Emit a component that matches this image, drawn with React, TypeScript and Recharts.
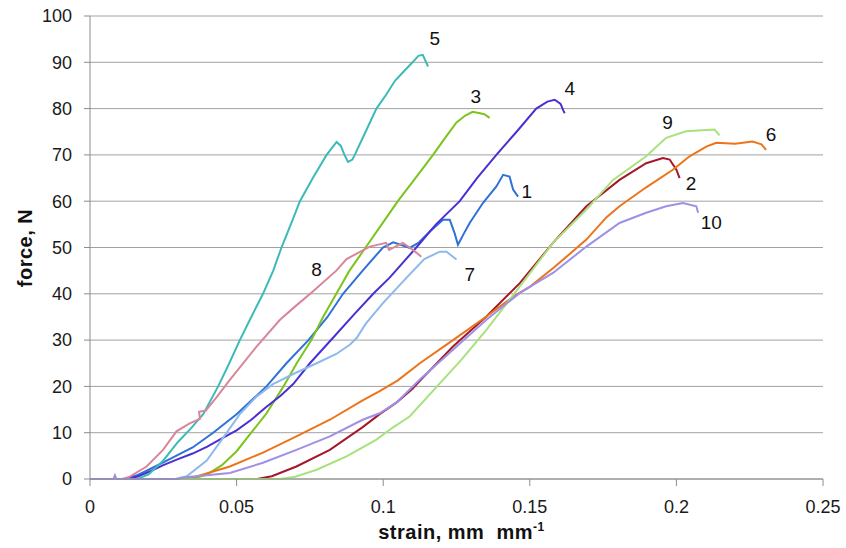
import React from 'react';
import { LineChart, Line, XAxis, YAxis, CartesianGrid, ReferenceDot, Label } from 'recharts';

const FONT = '"Liberation Sans", Arial, Helvetica, sans-serif';

// strain (x) and force (y) for each specimen
const s1x = [0, 0.012, 0.016, 0.02, 0.025, 0.03, 0.035, 0.042, 0.05, 0.0602, 0.067, 0.0745, 0.081, 0.0863, 0.093, 0.0999, 0.1034, 0.106, 0.109, 0.112, 0.116, 0.1204, 0.1227, 0.1244, 0.1255, 0.1275, 0.1295, 0.134, 0.1386, 0.1409, 0.1431, 0.1443, 0.146];
const s1y = [0, 0, 0.8, 2, 3.6, 5.2, 6.8, 10, 14, 20, 25, 30, 35, 40, 45, 50, 51.1, 50.6, 49.9, 51, 53.5, 56, 56, 53, 50.6, 53, 55.3, 59.6, 63.2, 65.7, 65.3, 62.5, 61];

const s2x = [0, 0.057, 0.062, 0.0704, 0.0818, 0.093, 0.0988, 0.1045, 0.11, 0.1125, 0.1238, 0.1352, 0.1466, 0.1579, 0.1693, 0.1806, 0.1897, 0.1954, 0.1977, 0.2, 0.2011];
const s2y = [0, 0, 0.6, 2.7, 6.3, 11.2, 14, 16.5, 19.5, 21.2, 28.6, 35.1, 42.3, 51, 58.9, 64.6, 68.2, 69.3, 69, 66.8, 65];

const s3x = [0, 0.035, 0.04, 0.045, 0.05, 0.055, 0.06, 0.066, 0.0705, 0.0755, 0.0795, 0.084, 0.0885, 0.094, 0.0995, 0.105, 0.111, 0.117, 0.1215, 0.125, 0.128, 0.1305, 0.133, 0.1345, 0.1363];
const s3y = [0, 0, 1, 3, 6, 10, 14, 20, 25, 30, 35, 40, 45, 50, 55, 60, 65, 70, 74, 77, 78.5, 79.3, 79, 78.8, 78];

const s4x = [0, 0.012, 0.016, 0.02, 0.025, 0.03, 0.035, 0.04, 0.045, 0.05, 0.055, 0.06, 0.065, 0.0693, 0.075, 0.0829, 0.09, 0.0966, 0.1022, 0.1113, 0.118, 0.1261, 0.132, 0.1386, 0.1455, 0.1522, 0.156, 0.1585, 0.1605, 0.1615, 0.1619];
const s4y = [0, 0, 0.5, 1.5, 3, 4.3, 5.5, 7, 8.8, 10.5, 12.8, 15.5, 18, 20.5, 25, 30.5, 35.5, 40, 43.5, 50, 55, 60, 65, 70, 75, 80, 81.5, 81.9, 81, 79.5, 79];

const s5x = [0, 0.016, 0.02, 0.025, 0.03, 0.0345, 0.0386, 0.0437, 0.0475, 0.0511, 0.055, 0.059, 0.0625, 0.0653, 0.0685, 0.0716, 0.076, 0.0807, 0.0841, 0.0855, 0.0868, 0.088, 0.0895, 0.0903, 0.094, 0.0977, 0.101, 0.104, 0.107, 0.11, 0.112, 0.1135, 0.1153];
const s5y = [0, 0, 1, 4, 8, 11, 14, 20, 25, 30, 35, 40, 45, 50, 55, 60, 65, 70, 72.8, 72, 70, 68.5, 69, 70, 75, 80, 83, 86, 88, 90, 91.4, 91.6, 89.1];

const s6x = [0, 0.03, 0.036, 0.0477, 0.059, 0.0704, 0.0818, 0.093, 0.0988, 0.105, 0.1125, 0.1238, 0.1352, 0.1443, 0.15, 0.1579, 0.1693, 0.1761, 0.1806, 0.1897, 0.1988, 0.2045, 0.2102, 0.2136, 0.22, 0.226, 0.229, 0.2306];
const s6y = [0, 0, 0.5, 2.7, 5.7, 9.2, 12.8, 17, 19, 21.3, 25, 30, 35.1, 39.4, 41.5, 45.5, 51.7, 56.5, 58.9, 63, 66.8, 69.7, 71.8, 72.6, 72.4, 72.9, 72.3, 71.1];

const s7x = [0, 0.029, 0.033, 0.0398, 0.0455, 0.0511, 0.0568, 0.0624, 0.0704, 0.0773, 0.084, 0.0886, 0.091, 0.094, 0.0999, 0.108, 0.114, 0.1193, 0.1216, 0.125];
const s7y = [0, 0, 0.6, 4, 9, 14, 17.8, 20.5, 23, 25, 27, 29, 30.5, 33.5, 38, 43.5, 47.5, 49.1, 49.1, 47.4];

const s8x = [0, 0.011, 0.0136, 0.0193, 0.0249, 0.0295, 0.034, 0.0375, 0.0372, 0.0395, 0.043, 0.0477, 0.0568, 0.0648, 0.0704, 0.076, 0.084, 0.0875, 0.0954, 0.101, 0.102, 0.1067, 0.109, 0.1113, 0.113];
const s8y = [0, 0, 0.5, 2.7, 6.3, 10.3, 12, 13, 14.5, 14.8, 17.5, 21.4, 28.6, 34.4, 37.5, 40.5, 45, 47.5, 50.2, 51, 49.5, 51, 50, 48.9, 48];

const s9x = [0, 0.065, 0.07, 0.0773, 0.0875, 0.0977, 0.103, 0.109, 0.1204, 0.127, 0.1352, 0.1466, 0.1579, 0.1693, 0.1784, 0.1897, 0.1965, 0.2033, 0.2102, 0.213, 0.2147];
const s9y = [0, 0, 0.5, 2, 4.9, 8.5, 11, 13.5, 21.4, 26, 32.2, 41.6, 51, 58.2, 64.6, 69.7, 73.7, 75.1, 75.4, 75.5, 74.2];

const s10x = [0, 0.008, 0.0085, 0.009, 0.03, 0.0318, 0.0477, 0.059, 0.0704, 0.0818, 0.093, 0.0988, 0.1045, 0.1125, 0.1238, 0.1352, 0.1466, 0.1579, 0.1693, 0.1806, 0.1897, 0.1965, 0.2022, 0.2068, 0.2074];
const s10y = [0, 0, 0.8, 0, 0, 0.3, 1.3, 3.5, 6.3, 9.2, 12.8, 14.2, 16.5, 21.5, 27.9, 34.4, 40.2, 44.5, 50.2, 55.3, 57.5, 58.9, 59.6, 58.9, 57.5];

const seriesNames = ['1', '2', '3', '4', '5', '6', '7', '8', '9', '10'];
const seriesColors = ['#2E72D8', '#A3182A', '#7BC41C', '#4A30D2', '#3CBAB8', '#EC741A', '#8DB9EC', '#D9869A', '#A8E27C', '#9D90E6'];
const seriesX = [s1x, s2x, s3x, s4x, s5x, s6x, s7x, s8x, s9x, s10x];
const seriesY = [s1y, s2y, s3y, s4y, s5y, s6y, s7y, s8y, s9y, s10y];

// annotation labels next to curves
const labelText = ['5', '3', '4', '9', '6', '1', '2', '10', '8', '7'];
const labelX = [0.1176, 0.1316, 0.1636, 0.197, 0.2323, 0.149, 0.205, 0.2119, 0.0773, 0.1295];
const labelY = [95.2, 82.6, 84.4, 77.0, 74.4, 62.1, 63.9, 55.3, 45.2, 44.1];

const xTicks = [0, 0.05, 0.1, 0.15, 0.2, 0.25];
const yTicks = [0, 10, 20, 30, 40, 50, 60, 70, 80, 90, 100];

const series = seriesNames.map((name, i) => ({
  name,
  color: seriesColors[i],
  data: seriesX[i].map((x, j) => ({ x, y: seriesY[i][j] })),
}));

const tickStyle = { fontSize: 18, fill: '#1a1a1a', fontFamily: FONT };

const XTitle = (props: any) => {
  const vb = props.viewBox || { x: 90, width: 733, y: 479 };
  const cx = vb.x + vb.width / 2 + 5;
  return (
    <text x={cx} y={539} textAnchor="middle" fontWeight="bold" fontSize={20} letterSpacing={0.5} fill="#111" fontFamily={FONT}>
      {'strain, mm\u00a0\u00a0mm'}
      <tspan dy={-8} fontSize={12}>-1</tspan>
    </text>
  );
};

const YTitle = () => (
  <text
    transform="translate(25,248) rotate(-90)"
    textAnchor="middle"
    dominantBaseline="central"
    fontWeight="bold"
    fontSize={20}
    letterSpacing={0.5}
    fill="#111"
    fontFamily={FONT}
  >
    force, N
  </text>
);

export default function App() {
  return (
    <div style={{ position: 'absolute', left: 0, top: 0, background: '#fff' }}>
      <LineChart width={846} height={548} margin={{ top: 16, right: 23, bottom: 0, left: 0 }}>
        <CartesianGrid vertical={false} stroke="#a2a2a2" strokeWidth={1} />
        <XAxis
          dataKey="x"
          type="number"
          domain={[0, 0.25]}
          ticks={xTicks}
          interval={0}
          height={69}
          tickSize={7}
          tickMargin={14}
          tick={tickStyle}
          stroke="#8c8c8c"
          allowDataOverflow
        >
          <Label content={<XTitle />} />
        </XAxis>
        <YAxis
          dataKey="y"
          type="number"
          domain={[0, 100]}
          ticks={yTicks}
          interval={0}
          width={90}
          tickSize={6}
          tickMargin={12}
          tick={tickStyle}
          stroke="#8c8c8c"
        >
          <Label content={<YTitle />} />
        </YAxis>
        {series.map((s) => (
          <Line
            key={s.name}
            data={s.data}
            dataKey="y"
            type="linear"
            stroke={s.color}
            strokeWidth={2}
            dot={false}
            activeDot={false}
            isAnimationActive={false}
          />
        ))}
        {labelText.map((t, i) => (
          <ReferenceDot
            key={'lbl' + t}
            x={labelX[i]}
            y={labelY[i]}
            r={0}
            ifOverflow="visible"
            shape={(p: any) => (
              <text x={p.cx} y={p.cy} textAnchor="middle" dominantBaseline="central" fontSize={19} fill="#111" fontFamily={FONT}>
                {t}
              </text>
            )}
          />
        ))}
      </LineChart>
    </div>
  );
}
